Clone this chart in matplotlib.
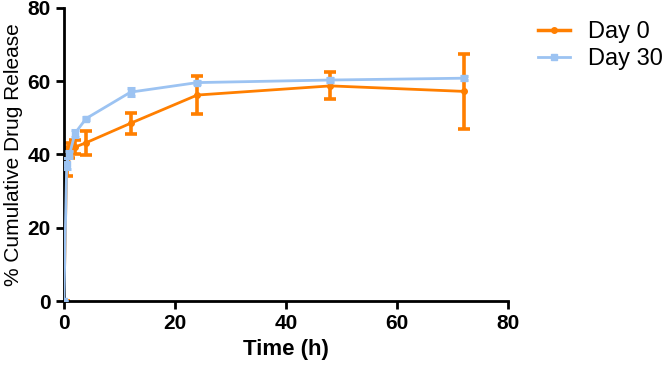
import numpy as np
import matplotlib as mpl
mpl.use('agg')
import matplotlib.pyplot as plt
from matplotlib.lines import Line2D

#------------------------------------------------------------------------------
# DATA
#------------------------------------------------------------------------------

time_h = [0, 0.5, 1, 2, 4, 12, 24, 48, 72]

day0 = [0, 38.0, 41.0, 42.0, 43.2, 48.5, 56.2, 58.7, 57.2]
day0_err = [0, 4.0, 2.0, 2.0, 3.3, 2.8, 5.2, 3.7, 10.2]

day30 = [0, 37.5, 40.0, 45.8, 49.8, 57.0, 59.6, 60.3, 60.8]
day30_err = [0, 1.5, 1.0, 1.0, 0.5, 1.0, 0.5, 0.5, 0.5]

labels = ['Day 0', 'Day 30']

#------------------------------------------------------------------------------
# PLOT
#------------------------------------------------------------------------------

plt.rcParams['font.family'] = ['Liberation Sans', 'DejaVu Sans']

c_orange = '#FF7F00'
c_blue = '#9CC3F2'

fig = plt.figure(figsize=(6.66, 3.73), dpi=100)
ax = fig.add_axes([0.096, 0.193, 0.667, 0.786])

ax.errorbar(time_h, day0, yerr=day0_err, color=c_orange, lw=2, marker='o', ms=4,
            elinewidth=2.6, capsize=4, capthick=2.6, zorder=2)
ax.errorbar(time_h, day30, yerr=day30_err, color=c_blue, lw=2, marker='s', ms=4,
            elinewidth=2.2, capsize=3, capthick=2.2, zorder=3)

ax.set_xlim(0, 80)
ax.set_ylim(0, 80)
ax.set_xticks([0, 20, 40, 60, 80])
ax.set_yticks([0, 20, 40, 60, 80])

for s in ['top', 'right']:
    ax.spines[s].set_visible(False)
for s in ['left', 'bottom']:
    ax.spines[s].set_linewidth(2)
ax.tick_params(width=2, length=6, direction='out', labelsize=15)
for lab in ax.get_xticklabels() + ax.get_yticklabels():
    lab.set_fontweight('bold')

ax.set_xlabel('Time (h)', fontsize=16, fontweight='bold', labelpad=4)
ax.set_ylabel('% Cumulative Drug Release', fontsize=15, labelpad=3)

handles = [Line2D([], [], color=c_orange, lw=2.5, marker='o', ms=4),
           Line2D([], [], color=c_blue, lw=2, marker='s', ms=4)]
leg = fig.legend(handles, labels, loc='upper left', bbox_to_anchor=(0.776, 1.0),
                 frameon=False, fontsize=17, handlelength=1.35, handletextpad=0.76,
                 labelspacing=0.2)

plt.savefig('out.png', dpi=100)
plt.close('all')
